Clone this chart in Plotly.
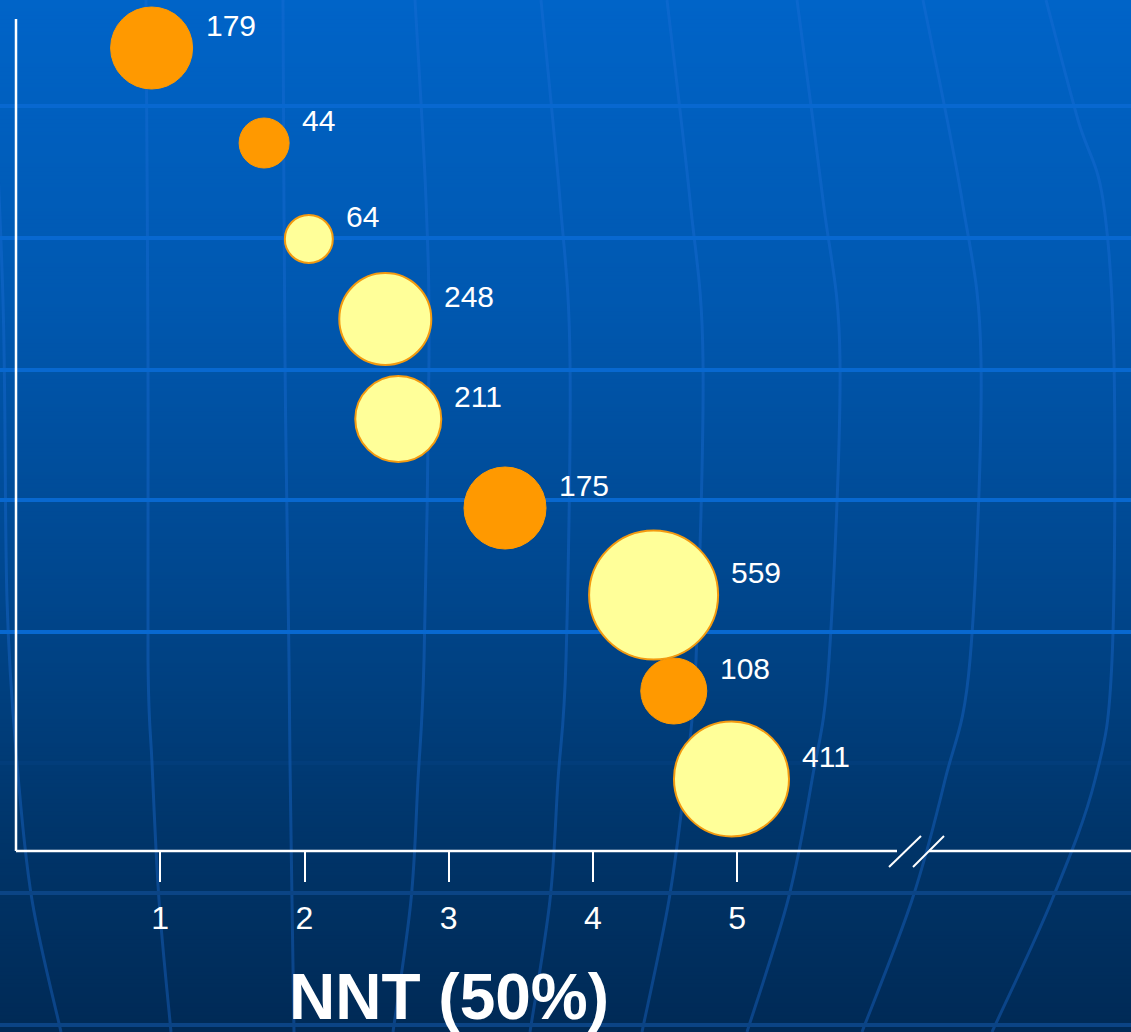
import plotly.graph_objects as go

# ---------------- data ----------------
orange_labels = [179, 44, 175, 108]
orange_nnt = [0.94, 1.72, 3.39, 4.56]
orange_y = [8.02, 7.07, 3.42, 1.59]
orange_size = [82, 50, 82, 66]

yellow_labels = [64, 248, 211, 559, 411]
yellow_nnt = [2.03, 2.56, 2.65, 4.42, 4.96]
yellow_y = [6.11, 5.31, 4.31, 2.55, 0.71]
yellow_size = [48, 92, 86, 129, 115]

tick_vals = [1, 2, 3, 4, 5]
tick_text = ["1", "2", "3", "4", "5"]
x_title = "NNT (50%)"

# ---------------- geometry / style ----------------
W, H = 1131, 1032
ML, MR, MT, MB = 16, 0, 20, 182
PW = W - ML - MR
PH = H - MT - MB
X_RANGE = [0, PW / 144.25]
Y_RANGE = [0, PH / 100.0]
FONT = "Liberation Sans, Arial, sans-serif"


def px(x):
    return (x - ML) / PW


def py(y):
    return (H - MB - y) / PH


shapes = []

# background vertical gradient
stops = [(0, (0, 100, 200)), (300, (0, 88, 176)), (600, (0, 70, 140)),
         (850, (0, 52, 104)), (1032, (0, 42, 86))]


def grad(y):
    for (y0, c0), (y1, c1) in zip(stops[:-1], stops[1:]):
        if y0 <= y <= y1:
            t = (y - y0) / (y1 - y0)
            return tuple(round(a + (b - a) * t) for a, b in zip(c0, c1))
    return stops[-1][1]


step = 4
for y0 in range(0, H, step):
    c = grad(y0 + step / 2)
    shapes.append(dict(type="rect", xref="paper", yref="paper", layer="below",
                       x0=px(-2), x1=px(W + 2), y0=py(y0 + step + 0.6), y1=py(y0 - 0.6),
                       fillcolor="rgb(%d,%d,%d)" % c, line=dict(width=0)))

# globe meridians (decorative, smooth Catmull-Rom curves)
meridians = [
    [(-10, 0), (3, 300), (7, 600), (17, 763), (32, 900), (61, 1032)],
    [(146, 0), (148, 360), (148, 660), (152, 763), (159, 900), (171, 1032)],
    [(283, 0), (285, 360), (289, 660), (290, 763), (292, 900), (294, 1032)],
    [(415, 0), (426, 200), (429, 360), (424, 660), (418, 780), (411, 900), (393, 1032)],
    [(541, 0), (560, 200), (570, 360), (566, 660), (558, 780), (550, 900), (530, 1032)],
    [(667, 0), (690, 200), (703, 360), (696, 660), (685, 780), (669, 900), (642, 1032)],
    [(797, 0), (823, 200), (840, 360), (829, 660), (812, 780), (788, 900), (747, 1032)],
    [(923, 0), (962, 200), (981, 360), (970, 660), (945, 780), (912, 900), (862, 1032)],
    [(1046, 0), (1078, 120), (1103, 200), (1114, 360), (1112, 660), (1095, 780), (1052, 900), (992, 1032)],
]


def smooth_path(pts):
    P = [(px(x), py(y)) for x, y in pts]
    d = "M %.5f,%.5f" % P[0]
    for i in range(len(P) - 1):
        p0 = P[i - 1] if i > 0 else P[i]
        p1, p2 = P[i], P[i + 1]
        p3 = P[i + 2] if i + 2 < len(P) else P[i + 1]
        c1 = (p1[0] + (p2[0] - p0[0]) / 6, p1[1] + (p2[1] - p0[1]) / 6)
        c2 = (p2[0] - (p3[0] - p1[0]) / 6, p2[1] - (p3[1] - p1[1]) / 6)
        d += " C %.5f,%.5f %.5f,%.5f %.5f,%.5f" % (c1 + c2 + p2)
    return d


for m in meridians:
    shapes.append(dict(type="path", xref="paper", yref="paper", layer="below",
                       path=smooth_path(m), line=dict(color="rgba(30,110,215,0.38)", width=3)))

# horizontal globe lines
for y, col in [(106, "#0868d0"), (238, "#0868d0"), (370, "#0868d0"), (500, "#0868d0"),
               (632, "#0868d0"), (763, "rgba(20,90,170,0.12)"), (893, "#0b4485"), (1025, "#0b4485")]:
    shapes.append(dict(type="line", xref="paper", yref="paper", layer="below",
                       x0=px(-2), x1=px(W + 2), y0=py(y), y1=py(y),
                       line=dict(color=col, width=4)))

# axes (white) with a break on the x axis
white = "#ffffff"
shapes += [
    dict(type="line", xref="paper", yref="paper", x0=px(16), x1=px(16), y0=py(851), y1=py(19),
         line=dict(color=white, width=2.5)),
    dict(type="line", xref="paper", yref="paper", x0=px(16), x1=px(897), y0=py(851), y1=py(851),
         line=dict(color=white, width=2.5)),
    dict(type="line", xref="paper", yref="paper", x0=px(929), x1=px(W + 2), y0=py(851), y1=py(851),
         line=dict(color=white, width=2.5)),
    dict(type="line", xref="paper", yref="paper", x0=px(889), x1=px(921), y0=py(867), y1=py(836),
         line=dict(color=white, width=2)),
    dict(type="line", xref="paper", yref="paper", x0=px(913), x1=px(944), y0=py(867), y1=py(836),
         line=dict(color=white, width=2)),
]

fig = go.Figure()
fig.add_trace(go.Scatter(
    x=orange_nnt, y=orange_y, mode="markers", cliponaxis=False, hoverinfo="skip",
    marker=dict(size=orange_size, sizemode="diameter", color="#ff9900",
                line=dict(color="#ff9900", width=1), opacity=1),
))
fig.add_trace(go.Scatter(
    x=yellow_nnt, y=yellow_y, mode="markers", cliponaxis=False, hoverinfo="skip",
    marker=dict(size=yellow_size, sizemode="diameter", color="#ffff99",
                line=dict(color="#f39a10", width=2), opacity=1),
))

annotations = []
for xs, ys, ss, ls in [(orange_nnt, orange_y, orange_size, orange_labels),
                       (yellow_nnt, yellow_y, yellow_size, yellow_labels)]:
    for xv, yv, sv, lv in zip(xs, ys, ss, ls):
        annotations.append(dict(x=xv, y=yv, xref="x", yref="y", text=str(lv), showarrow=False,
                                xanchor="left", yanchor="middle", xshift=sv / 2 + 11, yshift=23,
                                font=dict(family=FONT, size=30, color=white)))

annotations.append(dict(x=3, y=py(997), xref="x", yref="paper", text="<b>%s</b>" % x_title,
                        showarrow=False, xanchor="center", yanchor="middle",
                        font=dict(family=FONT, size=64, color=white)))

fig.update_layout(
    width=W, height=H,
    margin=dict(l=ML, r=MR, t=MT, b=MB, pad=0),
    paper_bgcolor="#002a56",
    plot_bgcolor="rgba(0,0,0,0)",
    showlegend=False,
    shapes=shapes,
    annotations=annotations,
    xaxis=dict(range=X_RANGE, showgrid=False, zeroline=False, showline=False,
               tickmode="array", tickvals=tick_vals, ticktext=tick_text,
               ticks="outside", ticklen=31, tickwidth=2, tickcolor=white,
               ticklabelstandoff=9,
               tickfont=dict(family=FONT, size=32, color=white), fixedrange=True),
    yaxis=dict(range=Y_RANGE, showgrid=False, zeroline=False, showline=False,
               showticklabels=False, ticks="", fixedrange=True),
)

fig.write_html("out.html")
